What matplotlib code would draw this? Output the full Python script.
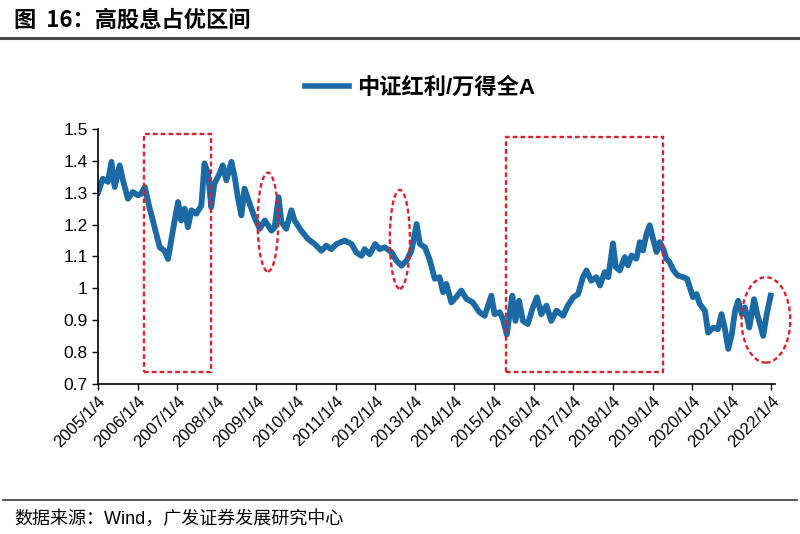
import matplotlib
matplotlib.use("Agg")
import matplotlib.pyplot as plt
import matplotlib.dates as mdates
from matplotlib.patches import Rectangle, Ellipse
from matplotlib.lines import Line2D
import pandas as pd

plt.rcParams["font.family"] = ["Liberation Sans", "Noto Sans CJK SC", "DejaVu Sans"]

TITLE = "图  16：高股息占优区间"
SERIES_NAME = "中证红利/万得全A"
SOURCE = "数据来源：Wind，广发证券发展研究中心"

# ratio
dates = [
    "2005-01-04", "2005-02-17", "2005-04-05", "2005-05-08", "2005-06-07", "2005-07-23",
    "2005-08-22", "2005-10-07", "2005-11-21", "2006-01-08", "2006-02-06", "2006-03-11",
    "2006-04-23", "2006-06-10", "2006-07-27", "2006-09-09", "2006-10-12", "2006-11-25",
    "2007-01-12", "2007-02-10", "2007-03-14", "2007-04-13", "2007-05-16", "2007-06-29",
    "2007-08-15", "2007-09-13", "2007-10-16", "2007-11-14", "2007-12-13", "2008-01-30",
    "2008-02-28", "2008-04-01", "2008-05-18", "2008-06-17", "2008-07-16", "2008-08-18",
    "2008-09-16", "2008-11-03", "2008-12-17", "2009-02-03", "2009-03-22", "2009-05-23",
    "2009-06-21", "2009-07-27", "2009-08-22", "2009-10-05", "2009-11-22", "2009-12-21",
    "2010-02-21", "2010-04-23", "2010-06-25", "2010-08-26", "2010-10-09", "2010-11-25",
    "2011-01-12", "2011-03-29", "2011-05-31", "2011-07-13", "2011-08-30", "2011-09-28",
    "2011-11-14", "2012-01-04", "2012-02-14", "2012-04-01", "2012-06-03", "2012-07-17",
    "2012-09-02", "2012-10-19", "2012-12-03", "2013-01-20", "2013-02-18", "2013-04-06",
    "2013-05-20", "2013-07-06", "2013-08-19", "2013-09-21", "2013-10-20", "2013-12-06",
    "2014-01-19", "2014-03-08", "2014-04-24", "2014-06-21", "2014-08-22", "2014-10-09",
    "2014-12-10", "2015-01-08", "2015-02-25", "2015-03-26", "2015-05-01", "2015-05-27",
    "2015-06-21", "2015-07-20", "2015-08-22", "2015-09-27", "2015-11-10", "2015-12-28",
    "2016-02-03", "2016-03-14", "2016-05-01", "2016-06-14", "2016-08-01", "2016-10-02",
    "2016-11-14", "2017-01-04", "2017-02-17", "2017-04-02", "2017-05-05", "2017-06-18",
    "2017-08-04", "2017-09-06", "2017-10-20", "2017-11-22", "2018-01-04", "2018-01-30",
    "2018-03-08", "2018-04-23", "2018-05-22", "2018-06-24", "2018-08-08", "2018-09-09",
    "2018-10-08", "2018-11-10", "2018-12-09", "2019-01-08", "2019-02-10", "2019-03-11",
    "2019-04-12", "2019-05-12", "2019-06-10", "2019-07-17", "2019-08-26", "2019-10-12",
    "2019-11-18", "2019-12-14", "2020-01-12", "2020-02-14", "2020-03-14", "2020-05-01",
    "2020-05-30", "2020-07-17", "2020-08-29", "2020-10-01", "2020-10-30", "2020-12-02",
    "2021-01-04", "2021-02-03", "2021-03-04", "2021-04-06", "2021-05-05", "2021-06-14",
    "2021-07-28", "2021-08-26", "2021-09-21", "2021-10-20", "2021-11-22", "2021-12-28",
]
ratio = [
    1.300, 1.344, 1.334, 1.397, 1.318, 1.386,
    1.339, 1.281, 1.302, 1.292, 1.297, 1.318,
    1.255, 1.192, 1.129, 1.118, 1.092, 1.181,
    1.271, 1.213, 1.250, 1.192, 1.245, 1.234,
    1.260, 1.392, 1.360, 1.255, 1.328, 1.360,
    1.386, 1.339, 1.397, 1.350, 1.286, 1.229,
    1.313, 1.265, 1.223, 1.187, 1.213, 1.181,
    1.192, 1.286, 1.208, 1.187, 1.245, 1.213,
    1.181, 1.155, 1.139, 1.118, 1.134, 1.123,
    1.139, 1.150, 1.139, 1.113, 1.102, 1.123,
    1.107, 1.139, 1.123, 1.129, 1.113, 1.087,
    1.071, 1.087, 1.118, 1.202, 1.139, 1.129,
    1.090, 1.030, 1.035, 0.988, 1.014, 0.956,
    0.972, 0.993, 0.967, 0.956, 0.925, 0.914,
    0.977, 0.919, 0.925, 0.904, 0.855, 0.919,
    0.977, 0.898, 0.961, 0.898, 0.888, 0.940,
    0.972, 0.919, 0.946, 0.898, 0.930, 0.914,
    0.946, 0.972, 0.982, 1.035, 1.056, 1.024,
    1.035, 1.009, 1.051, 1.035, 1.141, 1.067,
    1.056, 1.098, 1.072, 1.103, 1.093, 1.145,
    1.119, 1.172, 1.198, 1.156, 1.114, 1.145,
    1.124, 1.093, 1.082, 1.056, 1.040, 1.035,
    1.030, 1.003, 0.972, 0.982, 0.951, 0.930,
    0.861, 0.877, 0.872, 0.919, 0.877, 0.810,
    0.856, 0.930, 0.961, 0.919, 0.940, 0.877,
    0.966, 0.919, 0.888, 0.851, 0.919, 0.977,
]

tick_years = list(range(2005, 2023))
tick_labels = [f"{y}/1/4" for y in tick_years]

# highlighted periods: (start, end, low, high)
boxes = [("2006-03-04", "2007-11-14", 0.736, 1.484), ("2015-04-20", "2019-04-15", 0.738, 1.476)]
# ellipses: (centre date, centre value, width in days, height)
ellipses = [("2009-04-20", 1.208, 190, 0.31), ("2012-08-18", 1.154, 185, 0.31), ("2021-11-14", 0.901, 450, 0.268)]

BLUE = "#1b6aa6"
RED = "#d8232f"

fig = plt.figure(figsize=(8, 5.34), dpi=100)
ax = fig.add_axes([0.1225, 0.281, 0.8465, 0.4774])

x = pd.to_datetime(dates)
ax.plot(x, ratio, color=BLUE, lw=4.2, solid_joinstyle="round")

dash = (0, (2.0, 1.3))
for start, end, lo, hi in boxes:
    x0 = mdates.date2num(pd.Timestamp(start))
    x1 = mdates.date2num(pd.Timestamp(end))
    ax.add_patch(Rectangle((x0, lo), x1 - x0, hi - lo, fill=False, ec=RED,
                           lw=1.7, ls=dash, clip_on=False, zorder=3))
for c, v, w, h in ellipses:
    cx = mdates.date2num(pd.Timestamp(c))
    ax.add_patch(Ellipse((cx, v), w, h, fill=False, ec=RED, lw=1.7,
                         ls=dash, clip_on=False, zorder=3))

ax.set_ylim(0.7, 1.5)
ax.set_yticks([0.7, 0.8, 0.9, 1.0, 1.1, 1.2, 1.3, 1.4, 1.5])
ax.set_yticklabels(["0.7", "0.8", "0.9", "1", "1.1", "1.2", "1.3", "1.4", "1.5"])
ax.set_xlim(pd.Timestamp("2005-01-04"), pd.Timestamp("2022-02-08"))
ax.set_xticks(pd.to_datetime([f"{y}-01-04" for y in tick_years]))
ax.set_xticklabels(tick_labels, rotation=45, ha="right", rotation_mode="anchor")
ax.tick_params(axis="both", labelsize=12.5, direction="out", length=4, width=1, colors="black")
ax.tick_params(axis="x", pad=3, labelsize=12)
for s in ["top", "right"]:
    ax.spines[s].set_visible(False)
for s in ["left", "bottom"]:
    ax.spines[s].set_linewidth(1.2)

handle = Line2D([], [], color=BLUE, lw=4)
fig.legend([handle], [SERIES_NAME], loc="center", bbox_to_anchor=(0.525, 0.835),
           frameon=False, prop={"family": ["Liberation Sans", "Noto Sans CJK SC"], "weight": "bold", "size": 16},
           handlelength=2.0, handletextpad=0.35)

fig.text(0.018, 0.962, TITLE, fontsize=16, fontweight="bold", va="center", ha="left",
         family=["Noto Sans CJK SC", "DejaVu Sans"])
fig.add_artist(Line2D([0.0, 1.0], [0.929, 0.929], color="#4a4a4a", lw=2.2))
fig.add_artist(Line2D([0.004, 0.996], [0.064, 0.064], color="#4a4a4a", lw=1.3))
fig.text(0.018, 0.029, SOURCE, fontsize=13, va="center", ha="left",
         family=["Liberation Sans", "Noto Sans CJK SC"])

fig.savefig("out.png", dpi=100)
